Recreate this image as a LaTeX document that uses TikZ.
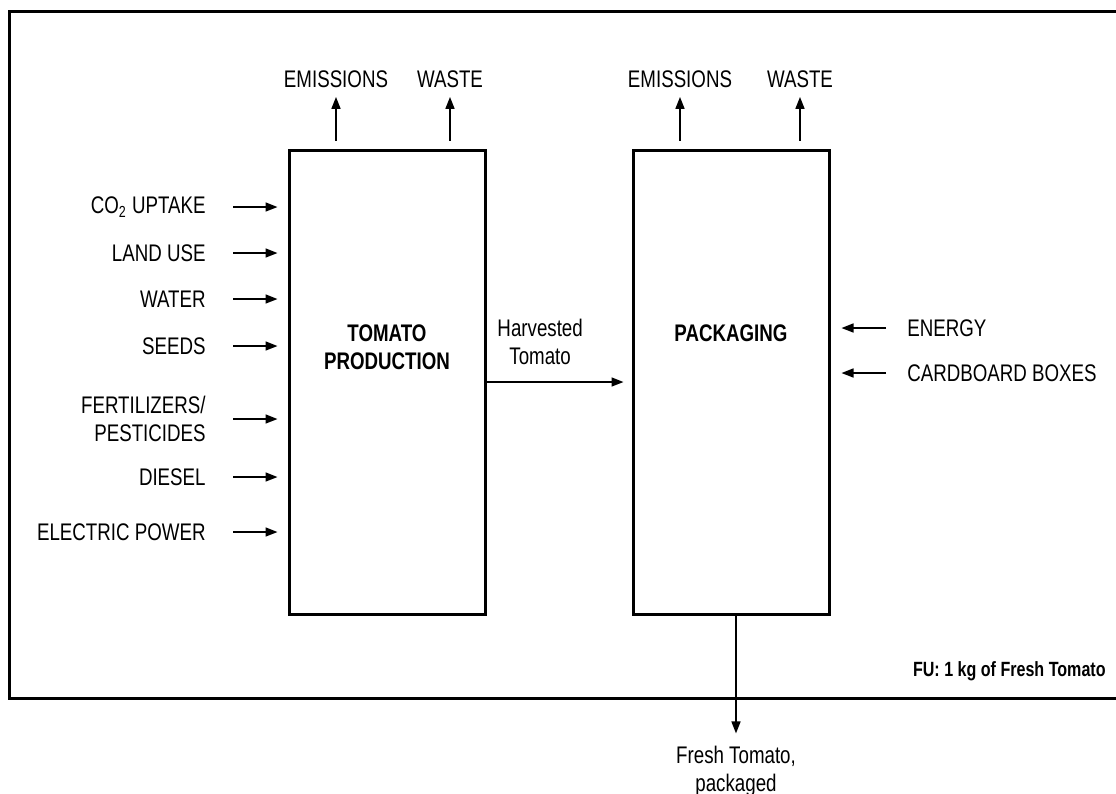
\documentclass[tikz,border=0pt]{standalone}
\usepackage{fontspec}
\setmainfont{Liberation Sans}[FakeStretch=0.78]
\usetikzlibrary{arrows.meta, positioning}
\tikzstyle{procBox} = [rectangle, draw, line width=1.5pt, minimum width=98pt, minimum height=232pt]
\tikzstyle{flowLabel} = [inner sep=0pt, align=center]
\tikzstyle{boldLabel} = [flowLabel, font=\fontsize{12pt}{14pt}\selectfont\bfseries]
\tikzstyle{flowArrow} = [->, line width=0.8pt]

\begin{document}
\begin{tikzpicture}[x=0.5pt, y=-0.5pt, >={Triangle[length=6pt, width=4.5pt]}, font=\fontsize{12pt}{14pt}\selectfont]
    \useasboundingbox (0,0) rectangle (1116,794);
    % system boundary, open to the right
    \draw[line width=1.5pt] (1130,11) -- (9,11) -- (9,698) -- (1130,698);

    \node[procBox] (prod) at (387,382) {};
    \node[procBox] (pack) at (731,382) {};
    \node[boldLabel] (prodTitle) at (387,347) {TOMATO\\PRODUCTION};
    \node[boldLabel] (packTitle) at (731,333) {PACKAGING};

    % outputs on top
    \node[flowLabel] (emiA) at (336,79) {EMISSIONS};
    \node[flowLabel] (wasteA) at (450,79) {WASTE};
    \node[flowLabel] (emiB) at (680,79) {EMISSIONS};
    \node[flowLabel] (wasteB) at (800,79) {WASTE};
    \foreach \o in {emiA, wasteA}
        \draw[flowArrow, shorten <=4pt, shorten >=4.5pt] (\o.south |- prod.north) -- (\o.south);
    \foreach \o in {emiB, wasteB}
        \draw[flowArrow, shorten <=4pt, shorten >=4.5pt] (\o.south |- pack.north) -- (\o.south);

    % inputs to tomato production
    \foreach \i/\txt/\y in {co/{CO\textsubscript{2} UPTAKE}/207, land/LAND USE/253, water/WATER/299, seeds/SEEDS/346, fert/{FERTILIZERS/\\PESTICIDES}/419, diesel/DIESEL/477, elec/ELECTRIC POWER/532}{
        \node[flowLabel, align=right, anchor=east] (in-\i) at (206,\y) {\txt};
        \draw[flowArrow, shorten <=13.5pt, shorten >=5pt] (in-\i.east) -- (prod.west |- in-\i.east);
    }

    % inputs to packaging
    \node[flowLabel, anchor=west] (energy) at (907,328) {ENERGY};
    \node[flowLabel, anchor=west] (boxes) at (907,373) {CARDBOARD BOXES};
    \foreach \i in {energy, boxes}
        \draw[flowArrow, shorten <=10.5pt, shorten >=5.5pt] (\i.west) -- (pack.east |- \i.west);

    % product flows
    \draw[flowArrow, shorten >=4pt] (prod) -- node[pos=0.37, above=8pt, flowLabel]{Harvested\\Tomato} (pack);
    \node[flowLabel] (fresh) at (736,771) {Fresh Tomato,\\packaged};
    \draw[flowArrow, shorten >=6pt] (fresh.north |- pack.south) -- (fresh.north);

    \node[flowLabel, anchor=east, font=\fontsize{10.3pt}{12pt}\selectfont\bfseries] (fu) at (1106,671) {FU: 1 kg of Fresh Tomato};
\end{tikzpicture}
\end{document}
